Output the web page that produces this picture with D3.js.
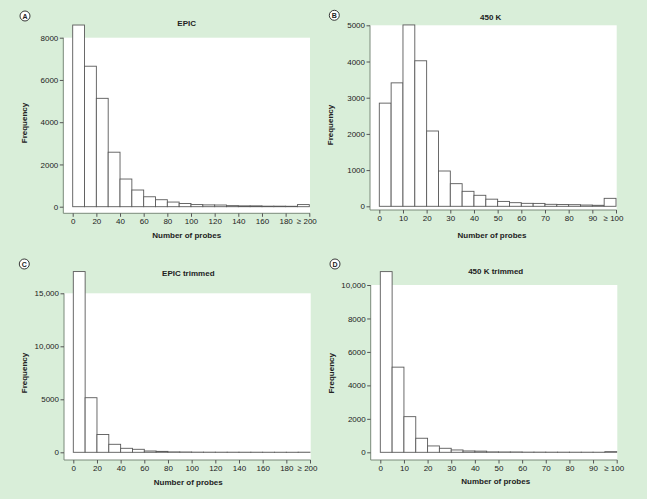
<!DOCTYPE html>
<html>
<head>
<meta charset="utf-8">
<script src="https://cdn.jsdelivr.net/npm/d3@7/dist/d3.min.js"></script>
<style>
  html, body { margin: 0; padding: 0; background: #d9eed9; }
  svg { display: block; }
  text { font-family: "Liberation Sans", Arial, Helvetica, sans-serif; fill: #222; }
</style>
</head>
<body>
<svg id="chart" width="647" height="499"></svg>
<script>
// ---- Data ----
const panelLetters = ["A", "B", "C", "D"];
const panelTitles = ["EPIC", "450 K", "EPIC trimmed", "450 K trimmed"];

// EPIC: bins of width 10, 0..200 (last bin = ≥190..200 shown with "≥ 200")
const epicCounts = [8600, 6650, 5130, 2580, 1310, 790, 470, 330, 220, 150,
                    100, 85, 80, 50, 40, 40, 25, 25, 20, 100];
// 450K: bins of width 5, 0..100
const k450Counts = [2850, 3410, 5010, 4020, 2080, 975, 625, 414, 304, 197,
                    135, 100, 82, 80, 55, 50, 45, 35, 28, 220];
// EPIC trimmed: bins of width 10
const epicTrimCounts = [17050, 5150, 1680, 755, 377, 283, 123, 88, 40, 30,
                        15, 12, 10, 10, 8, 8, 6, 6, 5, 10];
// 450K trimmed: bins of width 5
const k450TrimCounts = [10800, 5090, 2130, 840, 380, 240, 140, 80, 70, 25,
                        20, 20, 10, 10, 8, 8, 6, 6, 5, 40];

const epicXTicks = [0, 20, 40, 60, 80, 100, 120, 140, 160, 180, 200];
const epicXLabels = ["0", "20", "40", "60", "80", "100", "120", "140", "160", "180", "\u2265 200"];
const k450XTicks = [0, 10, 20, 30, 40, 50, 60, 70, 80, 90, 100];
const k450XLabels = ["0", "10", "20", "30", "40", "50", "60", "70", "80", "90", "\u2265 100"];

const epicYTicks = [0, 2000, 4000, 6000, 8000];
const k450YTicks = [0, 1000, 2000, 3000, 4000, 5000];
const epicTrimYTicks = [0, 5000, 10000, 15000];
const k450TrimYTicks = [0, 2000, 4000, 6000, 8000, 10000];

const xLabel = "Number of probes";
const yLabel = "Frequency";

// ---- Layout (pixel positions) ----
const panels = [
  { letter: panelLetters[0], title: panelTitles[0], counts: epicCounts, binWidth: 10, xMax: 200,
    xTicks: epicXTicks, xLabels: epicXLabels, yTicks: epicYTicks,
    x0: 72.7, x1: 309.3, yb: 206.7, yt: 37.7, axX: 63.3, axY: 213.3, right: 310,
    letterPos: [25, 16], titlePos: [186.7, 25.5], yLabPos: [24, 123], xLabPos: [186.7, 238] },
  { letter: panelLetters[1], title: panelTitles[1], counts: k450Counts, binWidth: 5, xMax: 100,
    xTicks: k450XTicks, xLabels: k450XLabels, yTicks: k450YTicks,
    x0: 379.3, x1: 616, yb: 206.3, yt: 25.3, axX: 370, axY: 210, right: 616.7,
    letterPos: [334.3, 15.3], titlePos: [490.7, 20], yLabPos: [330, 125], xLabPos: [492, 238] },
  { letter: panelLetters[2], title: panelTitles[2], counts: epicTrimCounts, binWidth: 10, xMax: 200,
    xTicks: epicXTicks, xLabels: epicXLabels, yTicks: epicTrimYTicks,
    x0: 73.3, x1: 310, yb: 452.3, yt: 293.3, axX: 64, axY: 460, right: 310.7,
    letterPos: [24.3, 264], titlePos: [188.3, 275.5], yLabPos: [24, 373], xLabPos: [188.3, 485] },
  { letter: panelLetters[3], title: panelTitles[3], counts: k450TrimCounts, binWidth: 5, xMax: 100,
    xTicks: k450XTicks, xLabels: k450XLabels, yTicks: k450TrimYTicks,
    x0: 380.3, x1: 616.7, yb: 452.3, yt: 285, axX: 370.7, axY: 460, right: 617.3,
    letterPos: [335, 264], titlePos: [495.7, 274], yLabPos: [330.7, 373.3], xLabPos: [495.7, 484] }
];

const svg = d3.select("#chart");
const yFmt = v => v >= 10000 ? d3.format(",")(v) : String(v);

panels.forEach(p => {
  const g = svg.append("g");
  const yMax = p.yTicks[p.yTicks.length - 1];
  const x = d3.scaleLinear().domain([0, p.xMax]).range([p.x0, p.x1]);
  const y = d3.scaleLinear().domain([0, yMax]).range([p.yb, p.yt]);

  // white plot region
  g.append("rect")
    .attr("x", p.axX).attr("y", y(yMax))
    .attr("width", p.right - p.axX).attr("height", p.axY - y(yMax))
    .attr("fill", "#ffffff");

  // bars
  g.selectAll("rect.bar").data(p.counts).join("rect")
    .attr("class", "bar")
    .attr("x", (d, i) => x(i * p.binWidth))
    .attr("width", (d, i) => x((i + 1) * p.binWidth) - x(i * p.binWidth))
    .attr("y", d => y(d))
    .attr("height", d => y(0) - y(d))
    .attr("fill", "#ffffff")
    .attr("stroke", "#5a5a5a")
    .attr("stroke-width", 0.9);

  // L-shaped axis frame
  g.append("path")
    .attr("d", `M${p.axX},${y(yMax)}V${p.axY}H${p.right}`)
    .attr("fill", "none").attr("stroke", "#7a8a7a").attr("stroke-width", 1);

  // y axis ticks
  const ya = g.append("g").attr("transform", `translate(${p.axX},0)`)
    .call(d3.axisLeft(y).tickValues(p.yTicks).tickFormat(yFmt).tickSize(3.5).tickPadding(1.5));
  ya.select(".domain").remove();
  ya.selectAll("line").attr("stroke", "#555");
  ya.selectAll("text").attr("font-size", 8).attr("fill", "#222")
    .style("font-family", '"Liberation Sans", Arial, sans-serif');

  // x axis ticks
  const xa = g.append("g").attr("transform", `translate(0,${p.axY})`)
    .call(d3.axisBottom(x).tickValues(p.xTicks).tickFormat((d, i) => p.xLabels[i]).tickSize(3.5).tickPadding(2));
  xa.select(".domain").remove();
  xa.selectAll("line").attr("stroke", "#555");
  xa.selectAll("text").attr("font-size", 8).attr("fill", "#222")
    .style("font-family", '"Liberation Sans", Arial, sans-serif');
  xa.selectAll(".tick").filter((d, i) => i === p.xTicks.length - 1)
    .select("text").attr("dx", "-3");

  // title
  g.append("text").attr("x", p.titlePos[0]).attr("y", p.titlePos[1])
    .attr("text-anchor", "middle").attr("font-size", 8).attr("font-weight", "bold")
    .text(p.title);

  // axis titles
  g.append("text").attr("x", p.xLabPos[0]).attr("y", p.xLabPos[1])
    .attr("text-anchor", "middle").attr("font-size", 8).attr("font-weight", "bold")
    .text(xLabel);
  g.append("text")
    .attr("transform", `translate(${p.yLabPos[0] + 3},${p.yLabPos[1]}) rotate(-90)`)
    .attr("text-anchor", "middle").attr("font-size", 8).attr("font-weight", "bold")
    .text(yLabel);

  // panel letter
  g.append("circle").attr("cx", p.letterPos[0]).attr("cy", p.letterPos[1]).attr("r", 5)
    .attr("fill", "#ffffff").attr("stroke", "#222").attr("stroke-width", 0.9);
  g.append("text").attr("x", p.letterPos[0]).attr("y", p.letterPos[1] + 2.5)
    .attr("text-anchor", "middle").attr("font-size", 7).attr("font-weight", "bold")
    .text(p.letter);
});
</script>
</body>
</html>
